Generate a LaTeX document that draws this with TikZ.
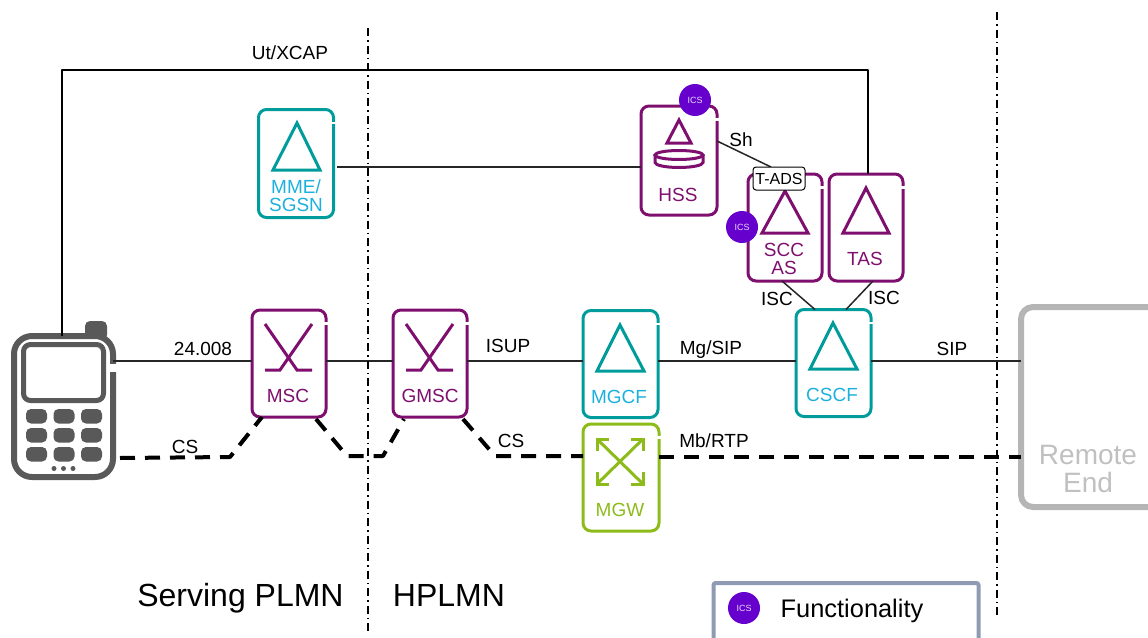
\documentclass[tikz,border=0pt]{standalone}
\usepackage{fontspec}
\setmainfont{Liberation Sans}
\definecolor{plum}{HTML}{7F0F6E}
\definecolor{tealbox}{HTML}{009C9C}
\definecolor{cyantext}{HTML}{1CB0DC}
\definecolor{limebox}{HTML}{8CBB1A}
\definecolor{greyend}{HTML}{B5B5B5}
\definecolor{phonegrey}{HTML}{595959}
\definecolor{icsfill}{HTML}{6600CC}
\definecolor{legendline}{HTML}{8F9BB3}
\tikzset{
  netbox/.style={draw,rounded corners=8pt,line width=3pt,minimum width=74pt,minimum height=107pt,outer sep=0pt,inner sep=0pt},
  plumbox/.style={netbox,draw=plum},
  tealnode/.style={netbox,draw=tealbox},
  limenode/.style={netbox,draw=limebox},
  lbl/.style={font=\fontsize{19}{20}\selectfont,inner sep=0pt},
  plumtxt/.style={lbl,text=plum},
  cyantxt/.style={lbl,text=cyantext},
  limetxt/.style={lbl,text=limebox},
  bigtxt/.style={font=\fontsize{32}{34}\selectfont,inner sep=0pt},
  ics/.style={circle,fill=icsfill,text=white!85!icsfill,minimum size=32pt,inner sep=0pt,font=\fontsize{9}{10}\selectfont},
  sig/.style={line width=1.5pt,draw=black!85},
  bearer/.style={line width=4pt,dash pattern=on 15pt off 10pt},
  border/.style={line width=2.5pt,dash pattern=on 8pt off 4pt on 1.5pt off 4pt},
  icon/.style={line width=3pt,line join=miter}
}
\begin{document}
\begin{tikzpicture}[x=1pt,y=-1pt,line join=round]
  \useasboundingbox (0,0) rectangle (1148,637);
  \clip (0,0) rectangle (1148,637);
  \coordinate (mainline) at (0,361);
  \coordinate (uttop) at (868,70);
  \coordinate (bearerline) at (0,457);
  % terminal
  \fill[phonegrey,rounded corners=5pt] (85,321) rectangle (107,340);
  \node[draw=phonegrey,fill=white,line width=6pt,rounded corners=18pt,minimum width=99pt,minimum height=141pt,outer sep=0pt] (ue) at (63.5,406.5) {};
  \draw[white,line width=7pt] (113,363.5)--(113,371.5);
  \draw[phonegrey,line width=5pt,rounded corners=7pt] (23.5,344.5) rectangle (103.5,400.5);
  \foreach \kx in {26,53.5,81}
    \foreach \ky in {409,428,447}
      \fill[phonegrey,rounded corners=5pt] (\kx,\ky) rectangle ++(21,14.5);
  \foreach \kx in {54,63.5,73}
    \fill[phonegrey] (\kx,468.5) circle (2.5pt);
  % boxes
  \node[tealnode,minimum width=75pt,minimum height=108pt] (mme) at (296,163.5) {};
  \node[plumbox,minimum width=76pt,minimum height=109pt] (hss) at (679,160.5) {};
  \node[plumbox] (scc) at (785,227.5) {};
  \node[plumbox] (tas) at (866,227.5) {};
  \node[plumbox] (msc) at (289,363.5) {};
  \node[plumbox] (gmsc) at (430,363.5) {};
  \node[tealnode,minimum width=75pt] (mgcf) at (620.5,364) {};
  \node[tealnode,minimum width=75pt] (cscf) at (833.5,363) {};
  \node[limenode,minimum width=76pt] (mgw) at (621,477.5) {};
  \node[draw=greyend,line width=6pt,rounded corners=12pt,minimum width=179pt,minimum height=200pt,outer sep=0pt] (remote) at (1110.5,407) {};
  \foreach \n in {mme,hss,scc,tas,msc,gmsc,mgcf,cscf,mgw}
    \draw[white,line width=4pt] ([yshift=-12pt]\n.north east)--++(0,-2.5pt);
  % icons
  \draw[icon,tealbox] (297,123)--(273,170)--(320,170)--cycle;
  \draw[icon,plum] (679,120)--(667,143)--(691,143)--cycle;
  \draw[icon,plum] (655,155)--(655,162.5) arc[start angle=180,end angle=0,x radius=24,y radius=5]--(703,155);
  \draw[icon,plum] (679,155) ellipse[x radius=24,y radius=4.5];
  \draw[icon,plum] (785,191)--(762,233)--(808,233)--cycle;
  \draw[icon,plum] (866,188)--(843,233)--(889,233)--cycle;
  \draw[icon,tealbox] (620,325)--(597,371)--(644,371)--cycle;
  \draw[icon,tealbox] (833,323)--(810,369)--(857,369)--cycle;
  \foreach \cx in {289,430}{
    \draw[icon,plum] (\cx-24,324)--(\cx+8,370)--(\cx+23,370);
    \draw[icon,plum] (\cx+23,324)--(\cx-9,370)--(\cx-24,370);
  }
  \draw[icon,limebox] (597,439)--(643,484) (643,439)--(597,484);
  \draw[icon,limebox] (597,451)--(597,439)--(609,439);
  \draw[icon,limebox] (631,439)--(643,439)--(643,451);
  \draw[icon,limebox] (597,472)--(597,484)--(609,484);
  \draw[icon,limebox] (631,484)--(643,484)--(643,472);
  % box texts
  \node[cyantxt] (mmea) at (296,187) {MME/};
  \node[cyantxt] (mmeb) at (296,205) {SGSN};
  \node[plumtxt] (hsst) at (678,195) {HSS};
  \node[plumtxt] (scca) at (784,250) {SCC};
  \node[plumtxt] (sccb) at (784,268) {AS};
  \node[plumtxt] (tast) at (865,259) {TAS};
  \node[plumtxt] (msct) at (288,396) {MSC};
  \node[plumtxt] (gmsct) at (430,396) {GMSC};
  \node[cyantxt] (mgcft) at (619,397) {MGCF};
  \node[cyantxt] (cscft) at (832,395) {CSCF};
  \node[limetxt] (mgwt) at (620,510) {MGW};
  \node[font=\fontsize{28}{30}\selectfont,text=greyend!85!white,inner sep=0pt] (rema) at (1088,455) {Remote};
  \node[font=\fontsize{28}{30}\selectfont,text=greyend!85!white,inner sep=0pt] (remb) at (1088,482) {End};
  % signalling
  \draw[sig] (ue.east |- mainline)--(msc.west |- mainline);
  \draw[sig] (msc.east |- mainline)--(gmsc.west |- mainline);
  \draw[sig] (gmsc.east |- mainline)--(mgcf.west |- mainline);
  \draw[sig] (mgcf.east |- mainline)--(cscf.west |- mainline);
  \draw[sig] (cscf.east |- mainline)--(remote.west |- mainline);
  \draw[line width=2pt] ([xshift=-1.5pt]ue.north) |- (uttop)--([xshift=2pt]tas.north);
  \draw[sig] ([xshift=3pt,yshift=-3.5pt]mme.east)--([yshift=-3.5pt]mme.east -| hss.west);
  \draw[sig] ([yshift=19.5pt]hss.east)--(771,167);
  \draw[sig] ([xshift=-3pt]scc.south)--([xshift=-18.5pt]cscf.north);
  \draw[sig] ([xshift=7pt]tas.south)--([xshift=12.5pt]cscf.north);
  % bearer
  \coordinate (csa) at (230,457);
  \coordinate (csb) at (347,456);
  \coordinate (csc) at (383,456);
  \coordinate (csd) at (495,456);
  \draw[bearer] (120,458)--(csa)--([xshift=10pt]msc.south west);
  \draw[bearer] ([xshift=-10pt,yshift=-2pt]msc.south east)--(csb)--(csc)--([xshift=11pt,yshift=-2pt]gmsc.south west);
  \draw[bearer] ([xshift=-4pt,yshift=-2pt]gmsc.south east)--(csd)--(csd -| mgw.west);
  \draw[bearer] (mgw.east |- bearerline)--(remote.west |- bearerline);
  % domain borders
  \coordinate (bordera) at (368,28);
  \coordinate (borderb) at (368,634);
  \coordinate (borderc) at (997,12);
  \coordinate (borderd) at (997,616);
  \draw[border] (bordera)--(borderb);
  \draw[border] (borderc)--(borderd);
  % T-ADS and ICS
  \node[draw=black,fill=white,line width=1pt,rounded corners=3pt,minimum width=52pt,minimum height=23pt,inner sep=0pt,font=\fontsize{16}{18}\selectfont] (tads) at (779,178.5) {T-ADS};
  \node[ics] (icshss) at (695,100) {ICS};
  \node[ics] (icsscc) at (742,227) {ICS};
  % labels
  \node[lbl] (utl) at (290,53) {Ut/XCAP};
  \node[lbl] (shl) at (741,140) {Sh};
  \node[lbl] (gml) at (203,349) {24.008};
  \node[lbl] (csl) at (185,447) {CS};
  \node[lbl] (isup) at (508,346) {ISUP};
  \node[lbl] (csm) at (511,441) {CS};
  \node[lbl] (mgl) at (711,350) {Mg/SIP};
  \node[lbl] (mbl) at (714,441) {Mb/RTP};
  \node[lbl] (isca) at (777,299) {ISC};
  \node[lbl] (iscb) at (884,298) {ISC};
  \node[lbl] (sipl) at (952,349) {SIP};
  \node[bigtxt] (splmn) at (240.5,598) {Serving PLMN};
  \node[bigtxt] (hplmn) at (449,595) {HPLMN};
  % legend
  \node[draw=legendline,line width=4pt,rounded corners=2pt,minimum width=265pt,minimum height=80pt,outer sep=0pt] (legend) at (846,623) {};
  \node[ics] (icsleg) at (744,608) {ICS};
  \node[font=\fontsize{25.4}{27}\selectfont,inner sep=0pt] (legt) at (852,611) {Functionality};
\end{tikzpicture}
\end{document}
